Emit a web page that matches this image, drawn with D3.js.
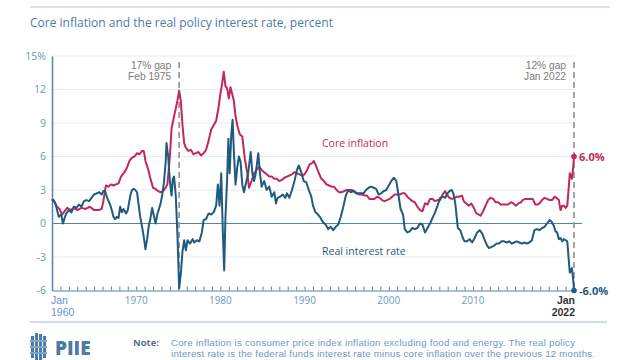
<!DOCTYPE html>
<html><head><meta charset="utf-8">
<script src="https://cdn.jsdelivr.net/npm/d3@7"></script>
<style>
html,body{margin:0;padding:0;background:#fff;}
svg{display:block;font-family:"Open Sans",sans-serif;}
.ml{font-family:"Liberation Sans",Arial,sans-serif;}
</style></head>
<body><svg id="c" width="640" height="360"></svg>
<script>
// ---------- data ----------
const coreDates = [1960.0,1960.3,1960.6,1960.9,1961.2,1961.5,1961.8,1962.2,1962.6,1963.0,1963.5,1964.0,1964.5,1965.0,1965.5,1965.9,1966.1,1966.4,1966.7,1967.0,1967.3,1967.6,1967.9,1968.2,1968.6,1968.9,1969.2,1969.5,1969.8,1970.1,1970.4,1970.7,1970.9,1971.1,1971.4,1971.7,1972.0,1972.3,1972.6,1972.9,1973.2,1973.5,1973.7,1974.0,1974.2,1974.5,1974.9,1975.1,1975.3,1975.5,1975.7,1975.9,1976.2,1976.5,1976.8,1977.1,1977.4,1977.7,1978.0,1978.3,1978.6,1978.9,1979.2,1979.5,1979.8,1980.0,1980.2,1980.4,1980.6,1980.8,1981.0,1981.2,1981.4,1981.6,1981.8,1982.0,1982.3,1982.6,1982.9,1983.2,1983.4,1983.7,1984.0,1984.3,1984.6,1984.9,1985.2,1985.5,1985.8,1986.1,1986.4,1986.7,1987.0,1987.3,1987.6,1987.9,1988.2,1988.5,1988.8,1989.1,1989.4,1989.7,1990.0,1990.3,1990.6,1990.9,1991.1,1991.4,1991.7,1992.0,1992.3,1992.6,1992.9,1993.2,1993.5,1993.8,1994.1,1994.4,1994.7,1995.0,1995.3,1995.6,1995.9,1996.2,1996.5,1996.8,1997.1,1997.4,1997.7,1998.0,1998.3,1998.6,1998.9,1999.2,1999.5,1999.8,2000.1,2000.4,2000.7,2001.0,2001.3,2001.6,2001.9,2002.2,2002.5,2002.8,2003.1,2003.4,2003.7,2004.0,2004.3,2004.6,2004.9,2005.2,2005.5,2005.8,2006.1,2006.4,2006.7,2006.9,2007.2,2007.5,2007.8,2008.1,2008.4,2008.7,2008.9,2009.2,2009.5,2009.8,2010.1,2010.4,2010.7,2010.9,2011.2,2011.5,2011.8,2012.1,2012.4,2012.7,2013.0,2013.3,2013.6,2013.9,2014.2,2014.5,2014.8,2015.1,2015.4,2015.7,2015.9,2016.2,2016.5,2016.8,2017.1,2017.4,2017.7,2017.9,2018.2,2018.5,2018.8,2019.1,2019.4,2019.7,2019.9,2020.2,2020.4,2020.6,2020.8,2021.0,2021.2,2021.35,2021.5,2021.6,2021.75,2021.9,2022.0];
const coreValues = [2.2,1.9,1.5,1.3,0.8,1.1,1.4,1.2,1.4,1.2,1.4,1.3,1.5,1.2,1.2,1.3,2.0,3.4,3.3,3.5,3.4,3.5,3.6,4.2,4.6,5.0,5.6,5.9,6.0,6.3,6.2,6.5,6.5,5.6,4.9,4.0,3.2,3.1,2.9,2.8,2.9,3.2,3.5,6.0,8.5,9.6,11.0,11.9,11.0,8.8,7.2,6.8,6.5,6.6,6.2,6.3,6.4,6.1,6.3,6.6,7.4,8.4,8.8,9.2,10.5,11.6,12.5,13.6,12.3,12.1,11.2,12.2,11.6,11.0,9.6,8.8,8.0,7.8,5.8,4.5,3.2,3.8,4.5,4.8,5.1,4.8,4.6,4.4,4.2,4.2,4.0,4.0,3.8,3.9,4.1,4.2,4.3,4.4,4.6,4.5,4.4,4.3,4.4,4.8,5.3,5.4,5.6,5.1,4.5,4.0,3.8,3.5,3.4,3.3,3.3,3.0,2.8,2.8,2.9,3.0,3.0,3.0,2.9,2.7,2.6,2.6,2.5,2.5,2.2,2.2,2.2,2.4,2.3,2.1,2.0,2.1,2.2,2.4,2.6,2.6,2.6,2.7,2.7,2.4,2.2,2.0,1.9,1.5,1.2,1.1,1.8,1.7,2.2,2.2,2.0,2.1,2.1,2.6,2.9,2.6,2.3,2.2,2.3,2.4,2.4,2.5,2.0,1.8,1.6,1.8,1.4,0.9,0.8,0.7,1.1,1.6,2.1,2.3,2.2,1.9,1.9,1.7,1.7,1.7,1.7,1.9,1.8,1.6,1.8,1.9,2.1,2.2,2.2,2.2,2.2,1.7,1.7,1.8,2.1,2.3,2.2,2.1,2.1,2.4,2.3,2.1,1.2,1.6,1.6,1.4,1.6,3.0,4.5,4.3,4.0,5.0,6.0];

const realDates = [1960.0,1960.2,1960.4,1960.6,1960.8,1961.1,1961.3,1961.5,1961.7,1962.0,1962.3,1962.6,1962.9,1963.2,1963.5,1963.8,1964.1,1964.4,1964.7,1965.0,1965.3,1965.6,1965.9,1966.1,1966.3,1966.6,1966.9,1967.1,1967.3,1967.5,1967.7,1967.9,1968.1,1968.3,1968.5,1968.8,1969.0,1969.3,1969.5,1969.7,1969.9,1970.1,1970.3,1970.5,1970.7,1970.9,1971.1,1971.3,1971.5,1971.7,1971.9,1972.1,1972.3,1972.5,1972.7,1972.9,1973.1,1973.3,1973.5,1973.6,1973.8,1974.0,1974.2,1974.35,1974.5,1974.7,1974.9,1975.1,1975.3,1975.5,1975.7,1975.9,1976.1,1976.4,1976.7,1976.9,1977.2,1977.5,1977.8,1978.0,1978.3,1978.6,1978.9,1979.2,1979.5,1979.7,1979.9,1980.1,1980.3,1980.45,1980.6,1980.8,1980.95,1981.1,1981.3,1981.45,1981.6,1981.8,1982.0,1982.2,1982.4,1982.6,1982.8,1983.0,1983.3,1983.6,1983.8,1984.0,1984.2,1984.5,1984.7,1984.9,1985.2,1985.5,1985.8,1986.1,1986.4,1986.6,1986.8,1987.1,1987.4,1987.7,1987.9,1988.2,1988.5,1988.8,1989.1,1989.3,1989.6,1989.9,1990.2,1990.5,1990.8,1991.0,1991.3,1991.6,1991.9,1992.2,1992.5,1992.8,1993.1,1993.4,1993.7,1994.0,1994.3,1994.6,1994.9,1995.2,1995.5,1995.8,1996.1,1996.4,1996.7,1997.0,1997.3,1997.6,1997.9,1998.2,1998.5,1998.8,1999.1,1999.4,1999.7,2000.0,2000.3,2000.6,2000.9,2001.1,2001.4,2001.7,2001.9,2002.2,2002.5,2002.8,2003.1,2003.4,2003.7,2004.0,2004.3,2004.6,2004.9,2005.2,2005.5,2005.8,2006.1,2006.4,2006.7,2006.9,2007.2,2007.5,2007.7,2007.9,2008.2,2008.5,2008.8,2009.0,2009.3,2009.6,2009.9,2010.2,2010.5,2010.8,2011.1,2011.4,2011.7,2011.9,2012.2,2012.5,2012.8,2013.1,2013.4,2013.7,2014.0,2014.3,2014.6,2014.9,2015.2,2015.5,2015.8,2016.1,2016.4,2016.7,2017.0,2017.3,2017.6,2017.9,2018.2,2018.5,2018.8,2019.1,2019.3,2019.6,2019.8,2020.0,2020.2,2020.4,2020.6,2020.8,2021.0,2021.2,2021.35,2021.5,2021.6,2021.75,2021.9,2022.0];
const realValues = [2.0,2.1,1.8,1.2,0.6,0.8,0.0,0.5,0.9,1.2,1.0,1.5,1.4,1.7,1.5,2.0,2.1,2.0,2.3,2.6,2.7,2.8,2.6,2.9,2.9,2.2,1.7,1.2,0.6,0.4,0.6,0.5,1.5,1.0,1.3,0.9,1.2,2.5,3.0,3.1,3.0,2.8,1.6,0.5,-0.3,-1.2,-2.3,-1.4,-0.2,0.5,1.4,0.7,0.0,0.8,1.3,1.8,2.6,3.7,5.5,7.2,6.0,3.8,2.5,4.0,4.2,2.5,-1.0,-5.8,-4.5,-2.5,-1.5,-2.4,-1.5,-1.8,-1.4,-1.7,-1.5,-1.6,-0.8,0.3,0.4,0.9,0.8,1.0,1.6,3.5,1.6,4.5,-1.0,-4.2,0.5,4.0,7.6,4.5,8.0,9.3,6.5,3.5,5.0,6.0,5.5,3.5,2.8,3.5,4.5,6.4,4.5,3.8,4.5,6.3,4.5,3.3,3.8,3.0,3.3,2.4,2.8,1.8,2.3,2.4,2.6,2.3,2.7,2.3,3.0,3.8,4.8,5.2,4.6,3.8,3.7,3.0,2.4,1.6,1.0,0.8,0.5,0.1,-0.1,-0.5,-0.3,-0.6,-0.3,-0.1,0.6,1.5,2.5,3.0,2.8,2.9,2.7,2.7,2.7,2.7,3.0,3.2,3.3,3.2,3.1,2.6,2.7,2.9,3.0,3.4,3.8,4.1,3.8,2.8,1.3,0.8,-0.5,-0.8,-0.7,-0.4,-0.5,-0.4,0.0,-0.1,-0.8,-0.4,0.0,0.5,1.0,1.6,2.3,2.4,2.3,2.6,2.9,3.0,2.6,1.8,-0.4,-0.6,-1.3,-1.6,-1.6,-1.4,-1.7,-1.3,-0.8,-0.6,-0.9,-1.5,-2.0,-2.2,-2.1,-2.0,-1.8,-1.8,-1.6,-1.6,-1.7,-1.6,-1.8,-1.7,-1.6,-1.7,-1.8,-1.7,-1.8,-1.7,-1.5,-0.6,-0.5,-0.6,-0.4,-0.3,0.0,0.3,0.2,-0.2,-0.7,-0.8,-1.4,-1.3,-1.6,-1.4,-1.5,-1.6,-3.0,-4.4,-4.2,-4.0,-5.0,-6.0];

const yTickValues = [15,12,9,6,3,0,-3,-6];
const yTickLabels = ["15%","12","9","6","3","0","-3","-6"];
const xDecadeTicks = [1970,1980,1990,2000,2010];
const xYearTicks = d3.range(1960,2023);
const gapMarks = [{date:1975.1, lines:["17% gap","Feb 1975"]},{date:2022.0, lines:["12% gap","Jan 2022"]}];
const endLabels = [{series:"core", value:6.0, text:"6.0%"},{series:"real", value:-6.0, text:"-6.0%"}];
const noteLines = ["Core inflation is consumer price index inflation excluding food and energy. The real policy",
                   "interest rate is the federal funds interest rate minus core inflation over the previous 12 months."];

// ---------- drawing ----------
const svg = d3.select("#c");
const CORE = "#c3275b", REAL = "#1f5a7f", BLUE = "#4f83b5", LBLUE = "#6a98c6", GRID = "#e4edf6", GRAY = "#7b7b7b";
const x = d3.scaleLinear().domain([1960, 2022]).range([52, 574]);
const y = d3.scaleLinear().domain([-6, 15]).range([290.5, 56]);

// header
svg.append("line").attr("x1",30).attr("x2",610).attr("y1",7).attr("y2",7).attr("stroke","#b3c9de").attr("stroke-width",1);
svg.append("text").attr("x",30).attr("y",27).attr("font-size",12).attr("fill","#4b7ca8").attr("font-weight",500)
  .attr("textLength",303).attr("lengthAdjust","spacing")
  .text("Core inflation and the real policy interest rate, percent");

// gridlines
svg.append("g").selectAll("line").data(yTickValues.filter(v=>v!==0 && v!==-6)).join("line")
  .attr("x1",x(1960)).attr("x2",x(2022)).attr("y1",d=>y(d)).attr("y2",d=>y(d))
  .attr("stroke",GRID).attr("stroke-width",1);

// y axis
const yAxis = d3.axisLeft(y).tickValues(yTickValues).tickSize(0).tickPadding(6)
  .tickFormat((d,i)=>yTickLabels[i]);
const gy = svg.append("g").attr("transform",`translate(${x(1960)},0)`).call(yAxis);
gy.select(".domain").attr("stroke",BLUE).attr("stroke-width",1.5);
gy.selectAll("text").attr("fill",LBLUE).attr("font-size",10.5).attr("font-family","Open Sans");

// zero line
svg.append("line").attr("x1",x(1960)).attr("x2",582).attr("y1",y(0)).attr("y2",y(0)).attr("stroke",BLUE).attr("stroke-width",1.2);

// x axis (yearly ticks pointing up)
const xAxis = d3.axisBottom(x).tickValues(xYearTicks).tickSize(-4).tickSizeOuter(0).tickFormat("");
const gx = svg.append("g").attr("transform",`translate(0,${y(-6)})`).call(xAxis);
gx.select(".domain").attr("stroke",BLUE).attr("stroke-width",1.2);
gx.selectAll(".tick line").attr("stroke",BLUE).attr("stroke-width",1);

const xl = svg.append("g").attr("font-size",10).attr("font-family","Open Sans");
xl.selectAll("text.dec").data(xDecadeTicks).join("text").attr("class","dec")
  .attr("x",d=>x(d)).attr("y",303.5).attr("text-anchor","middle").attr("fill",LBLUE).text(d=>d);
function twoLine(xx, yy, anchor, lines, fill, weights){
  lines.forEach((s,i)=>svg.append("text").attr("class","ml").attr("font-size",10.5)
    .attr("text-anchor",anchor).attr("fill",fill).attr("x",xx).attr("y",yy+i*12)
    .attr("font-weight",weights?weights[i]:null).text(s));
}
twoLine(x(1960)-1, 303.5, "start", ["Jan","1960"], LBLUE);
twoLine(x(2022)+1, 303.5, "end", ["Jan","2022"], "#333", [700,700]);

// dashed gap markers
gapMarks.forEach(g=>{
  svg.append("line").attr("x1",x(g.date)).attr("x2",x(g.date)).attr("y1",62).attr("y2",y(-6))
    .attr("stroke","#9a9a9a").attr("stroke-width",1.8).attr("stroke-dasharray","6,4");
  g.lines.forEach((s,i)=>svg.append("text").attr("class","ml").attr("text-anchor","end")
    .attr("font-size",10.2).attr("fill",GRAY).attr("x",x(g.date)-8).attr("y",68.5+i*11.5).text(s));
});

// series
const line = d3.line().x(d=>x(d[0])).y(d=>y(d[1]));
const coreData = coreDates.map((d,i)=>[d,coreValues[i]]);
const realData = realDates.map((d,i)=>[d,realValues[i]]);
svg.append("path").datum(coreData).attr("d",line).attr("fill","none").attr("stroke",CORE).attr("stroke-width",2).attr("stroke-linejoin","round");
svg.append("path").datum(realData).attr("d",line).attr("fill","none").attr("stroke",REAL).attr("stroke-width",2).attr("stroke-linejoin","round");

// end dots & labels
endLabels.forEach(e=>{
  const c = e.series==="core"?CORE:REAL;
  svg.append("circle").attr("cx",x(2022)).attr("cy",y(e.value)).attr("r",2.8).attr("fill",c);
  svg.append("text").attr("x",x(2022)+5).attr("y",y(e.value)+4).attr("font-size",11).attr("font-weight",700).attr("fill",c).text(e.text);
});

// series labels
svg.append("text").attr("x",322).attr("y",146.5).attr("font-size",10.5).attr("fill",CORE).text("Core inflation");
svg.append("text").attr("x",322).attr("y",254.5).attr("font-size",10.5).attr("fill",REAL).text("Real interest rate");

// footer
svg.append("line").attr("x1",30).attr("x2",607).attr("y1",322).attr("y2",322).attr("stroke","#9fbcd6").attr("stroke-width",1);
const logo = svg.append("g").attr("fill","#4a7aa6");
[[31,336,3,22],[35,333,3,27],[39,334,3,26],[43,336,3,22]].forEach(r=>logo.append("rect").attr("x",r[0]).attr("y",r[1]).attr("width",r[2]).attr("height",r[3]));
[[30,340,17,2],[30,346,17,2],[30,352,17,2]].forEach(r=>logo.append("rect").attr("x",r[0]).attr("y",r[1]).attr("width",r[2]).attr("height",r[3]).attr("fill","#7fa5c9"));
logo.append("text").attr("x",55).attr("y",355).attr("font-size",19).attr("font-weight",800).attr("font-family","Open Sans").text("PIIE");
svg.append("text").attr("x",133).attr("y",346).attr("font-size",9.5).attr("font-weight",700).attr("fill","#5d6f82").text("Note:");
const noteWidths = [404, 424];
noteLines.forEach((s,i)=>svg.append("text").attr("class","ml").attr("font-size",9.6).attr("fill",LBLUE)
  .attr("x",171).attr("y",346+i*11).attr("textLength",noteWidths[i]).attr("lengthAdjust","spacing").text(s));
</script></body></html>
